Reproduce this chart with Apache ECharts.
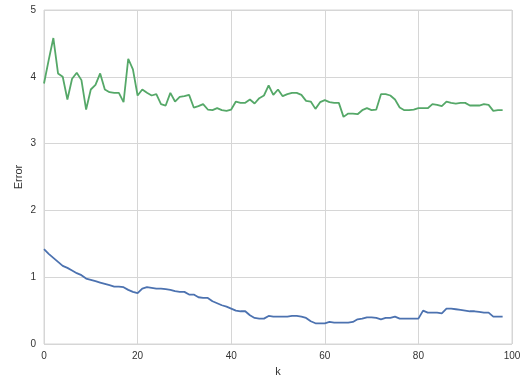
<!DOCTYPE html>
<html>
<head>
<meta charset="utf-8">
<script src="https://cdn.jsdelivr.net/npm/echarts@6/dist/echarts.min.js"></script>
<style>html,body{margin:0;padding:0;background:#fff}#c{width:524px;height:378px}</style>
</head>
<body>
<div id="c"></div>
<script>
const greenErr = [3.90,4.25,4.58,4.05,4.00,3.66,3.97,4.06,3.95,3.51,3.81,3.88,4.05,3.81,3.77,3.76,3.76,3.62,4.27,4.11,
3.72,3.81,3.76,3.72,3.74,3.59,3.57,3.76,3.63,3.70,3.71,3.73,3.54,3.56,3.59,3.51,3.50,3.53,3.50,3.49,
3.51,3.63,3.61,3.61,3.66,3.60,3.68,3.72,3.87,3.73,3.81,3.71,3.74,3.76,3.76,3.73,3.64,3.63,3.52,3.62,
3.65,3.62,3.61,3.61,3.40,3.45,3.45,3.44,3.50,3.53,3.50,3.51,3.74,3.74,3.72,3.66,3.54,3.50,3.50,3.51,
3.53,3.53,3.53,3.59,3.58,3.56,3.63,3.61,3.60,3.61,3.61,3.57,3.57,3.57,3.59,3.58,3.49,3.50,3.50];
const blueErr = [1.42,1.35,1.29,1.23,1.17,1.14,1.10,1.06,1.03,0.98,0.96,0.94,0.92,0.90,0.88,0.86,0.86,0.85,0.81,0.78,
0.76,0.83,0.85,0.84,0.83,0.83,0.82,0.81,0.79,0.78,0.78,0.74,0.74,0.70,0.69,0.69,0.64,0.61,0.58,0.56,
0.53,0.50,0.49,0.49,0.43,0.39,0.38,0.38,0.42,0.41,0.41,0.41,0.41,0.42,0.42,0.41,0.39,0.34,0.31,0.31,
0.31,0.33,0.32,0.32,0.32,0.32,0.33,0.37,0.38,0.40,0.40,0.39,0.37,0.39,0.39,0.41,0.38,0.38,0.38,0.38,
0.38,0.50,0.47,0.47,0.47,0.46,0.53,0.53,0.52,0.51,0.50,0.49,0.49,0.48,0.47,0.47,0.41,0.41,0.41];
const kValues = blueErr.map((_, i) => i);
const xTicks = [0, 20, 40, 60, 80, 100];
const yTicks = [0, 1, 2, 3, 4, 5];

const chart = echarts.init(document.getElementById('c'), null, {renderer: 'canvas'});
const font = 'Liberation Sans, Arial, sans-serif';
const gridColor = '#d6d6d6';
chart.setOption({
  animation: false,
  backgroundColor: '#ffffff',
  grid: {left: 44, right: 12, top: 10, bottom: 34, show: true, borderColor: gridColor, borderWidth: 1,
         containLabel: false, outerBoundsMode: 'none'},
  xAxis: {
    type: 'value', min: xTicks[0], max: xTicks[xTicks.length-1], interval: 20,
    name: 'k', nameLocation: 'middle', nameGap: 22, nameMoveOverlap: false,
    nameTextStyle: {fontFamily: font, fontSize: 11, color: '#333'},
    axisLine: {show: false}, axisTick: {show: false},
    axisLabel: {fontFamily: font, fontSize: 10, color: '#333', margin: 7},
    splitLine: {show: true, lineStyle: {color: gridColor, width: 1}}
  },
  yAxis: {
    type: 'value', min: yTicks[0], max: yTicks[yTicks.length-1], interval: 1,
    name: 'Error', nameLocation: 'middle', nameGap: 20, nameRotate: 90, nameMoveOverlap: false,
    nameTextStyle: {fontFamily: font, fontSize: 11, color: '#333'},
    axisLine: {show: false}, axisTick: {show: false},
    axisLabel: {fontFamily: font, fontSize: 10, color: '#333', margin: 8},
    splitLine: {show: true, lineStyle: {color: gridColor, width: 1}}
  },
  series: [
    {type: 'line', data: kValues.map((k, i) => [k, blueErr[i]]), showSymbol: false,
     lineStyle: {color: '#4c72b0', width: 1.8}, itemStyle: {color: '#4c72b0'}},
    {type: 'line', data: kValues.map((k, i) => [k, greenErr[i]]), showSymbol: false,
     lineStyle: {color: '#55a868', width: 1.8}, itemStyle: {color: '#55a868'}}
  ]
});
</script>
</body>
</html>
